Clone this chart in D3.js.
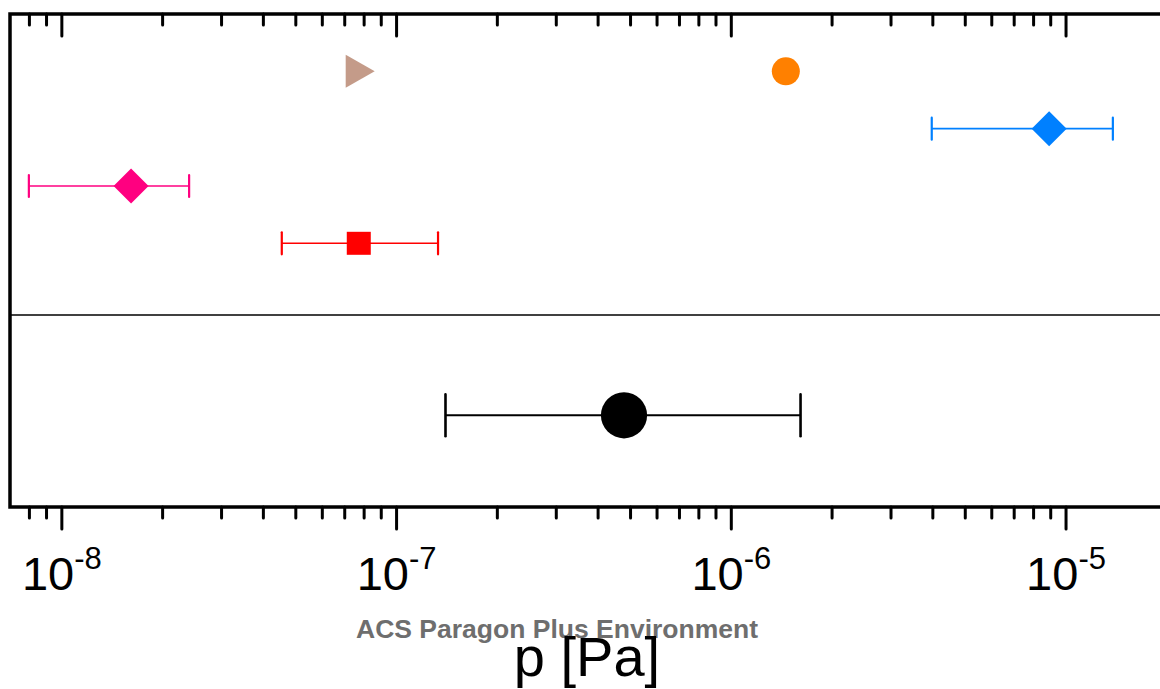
<!DOCTYPE html>
<html>
<head>
<meta charset="utf-8">
<script src="https://cdn.jsdelivr.net/npm/d3@7"></script>
<style>
  html, body { margin: 0; padding: 0; background: #fff; }
  svg { display: block; }
</style>
</head>
<body>
<svg id="chart" width="1160" height="689"></svg>
<script>
// ---------------- data ----------------
const seriesNames = ["triangle", "orange", "blue", "pink", "red", "black"];
const pValues = [7.76e-8, 1.455e-6, 8.9e-6, 1.61e-8, 7.71e-8, 4.78e-7];
const pLow    = [null, null, 3.97e-6, 7.97e-9, 4.54e-8, 1.40e-7];
const pHigh   = [null, null, 1.38e-5, 2.40e-8, 1.33e-7, 1.61e-6];
const rowIdx  = [0, 0, 1, 2, 3, 6];
const shapes  = ["triangle", "circle", "diamond", "diamond", "square", "circle"];
const colors  = ["#c49b89", "#ff8000", "#0080ff", "#ff0080", "#ff0000", "#000000"];
const sizes   = [1, 1, 1, 1, 1, 1.65];
const separatorRow = 4.25;
const majorTicks = [1e-8, 1e-7, 1e-6, 1e-5];
const majorTickExp = ["-8", "-7", "-6", "-5"];
const xLabel = "p [Pa]";
const watermark = "ACS Paragon Plus Environment";

// ---------------- layout ----------------
const svg = d3.select("#chart");
const pLeft = 10, pRight = 1180, pTop = 14, pBottom = 507;
const x = d3.scaleLog().domain([7.0e-9, 2.19e-5]).range([pLeft, pRight]);
const y = d3.scaleLinear().domain([-1, 7.6]).range([pTop, pBottom]);

// minor ticks
const minorTicks = [];
for (let e = -9; e <= -5; e++) {
  for (let m = 2; m <= 9; m++) {
    const v = m * Math.pow(10, e);
    if (v > x.domain()[0] * 1.01 && v < x.domain()[1]) minorTicks.push(v);
  }
}

const axisG = svg.append("g");
const tickStyle = sel => sel.attr("stroke", "#000").attr("stroke-width", 3).attr("stroke-linecap", "round");
axisG.selectAll("line.majTop").data(majorTicks).enter().append("line")
  .attr("x1", d => x(d)).attr("x2", d => x(d)).attr("y1", pTop).attr("y2", pTop + 22).call(tickStyle);
axisG.selectAll("line.minTop").data(minorTicks).enter().append("line")
  .attr("x1", d => x(d)).attr("x2", d => x(d)).attr("y1", pTop).attr("y2", pTop + 11).call(tickStyle);
axisG.selectAll("line.majBot").data(majorTicks).enter().append("line")
  .attr("x1", d => x(d)).attr("x2", d => x(d)).attr("y1", pBottom).attr("y2", pBottom + 22).call(tickStyle);
axisG.selectAll("line.minBot").data(minorTicks).enter().append("line")
  .attr("x1", d => x(d)).attr("x2", d => x(d)).attr("y1", pBottom).attr("y2", pBottom + 11).call(tickStyle);

// frame
svg.append("rect").attr("x", pLeft).attr("y", pTop)
  .attr("width", pRight - pLeft).attr("height", pBottom - pTop)
  .attr("fill", "none").attr("stroke", "#000").attr("stroke-width", 3.5);

// separator line
svg.append("line").attr("x1", pLeft).attr("x2", pRight)
  .attr("y1", y(separatorRow)).attr("y2", y(separatorRow))
  .attr("stroke", "#000").attr("stroke-width", 1.6);

// tick labels
const labG = svg.append("g").attr("font-family", "Liberation Sans, Arial, sans-serif").attr("fill", "#000");
majorTicks.forEach((t, i) => {
  const tx = labG.append("text").attr("x", x(t)).attr("y", 590)
    .attr("text-anchor", "middle").attr("font-size", 47);
  tx.append("tspan").text("10");
  tx.append("tspan").attr("dy", -21).attr("font-size", 31).text(majorTickExp[i]);
});

// watermark
svg.append("text").attr("x", 557).attr("y", 638).attr("text-anchor", "middle")
  .attr("font-family", "Liberation Sans, Arial, sans-serif").attr("font-weight", "bold")
  .attr("font-size", 26.5).attr("fill", "#6e6e6e").text(watermark);

// axis title
svg.append("text").attr("x", 587).attr("y", 676).attr("text-anchor", "middle")
  .attr("font-family", "Liberation Sans, Arial, sans-serif")
  .attr("font-size", 56).attr("fill", "#000").text(xLabel);

// error bars
const data = seriesNames.map((n, i) => ({
  name: n, v: pValues[i], lo: pLow[i], hi: pHigh[i], row: rowIdx[i],
  shape: shapes[i], color: colors[i], s: sizes[i]
}));
const eb = svg.append("g");
data.filter(d => d.lo !== null).forEach(d => {
  const yy = y(d.row);
  const cap = 11 * (d.s > 1 ? 1.9 : 1);
  const sw = d.s > 1 ? 2 : 1.6;
  eb.append("line").attr("x1", x(d.lo)).attr("x2", x(d.hi)).attr("y1", yy).attr("y2", yy)
    .attr("stroke", d.color).attr("stroke-width", sw);
  [d.lo, d.hi].forEach(v => {
    eb.append("line").attr("x1", x(v)).attr("x2", x(v)).attr("y1", yy - cap).attr("y2", yy + cap)
      .attr("stroke", d.color).attr("stroke-width", sw + 0.6).attr("stroke-linecap", "round");
  });
});

// markers
const mk = svg.append("g");
data.forEach(d => {
  const cx = x(d.v), cy = y(d.row);
  if (d.shape === "circle") {
    mk.append("circle").attr("cx", cx).attr("cy", cy).attr("r", 14 * d.s).attr("fill", d.color);
  } else if (d.shape === "diamond") {
    const h = 17.5;
    mk.append("path").attr("d", `M${cx},${cy - h}L${cx + h},${cy}L${cx},${cy + h}L${cx - h},${cy}Z`).attr("fill", d.color);
  } else if (d.shape === "square") {
    mk.append("rect").attr("x", cx - 12).attr("y", cy - 11.5).attr("width", 24).attr("height", 23).attr("fill", d.color);
  } else if (d.shape === "triangle") {
    mk.append("path").attr("d", `M${cx - 14},${cy - 16.5}L${cx + 15},${cy}L${cx - 14},${cy + 16.5}Z`).attr("fill", d.color);
  }
});
</script>
</body>
</html>
